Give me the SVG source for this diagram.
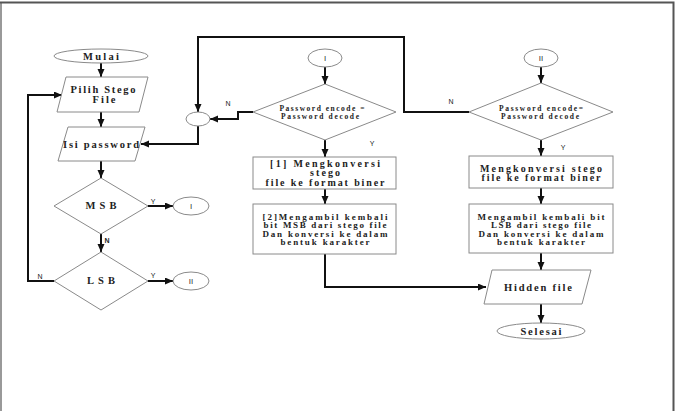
<svg xmlns="http://www.w3.org/2000/svg" width="678" height="411" viewBox="0 0 678 411">
<defs>
<marker id="ah" markerUnits="userSpaceOnUse" markerWidth="9" markerHeight="8" refX="8" refY="3.5" orient="auto">
<path d="M0,0 L8,3.5 L0,7 z" fill="#111"/>
</marker>
<style>
.sh{fill:#fff;stroke:#8a8a8a;stroke-width:1}
.cn{fill:none;stroke:#111;stroke-width:2}
.ar{marker-end:url(#ah)}
.t{font-family:"Liberation Serif","Times New Roman",serif;font-weight:bold;fill:#222;text-anchor:middle}
.l{font-family:"Liberation Sans",Arial,sans-serif;fill:#222;font-size:7px;text-anchor:middle}
.c{font-family:"Liberation Sans",Arial,sans-serif;fill:#333;font-size:8px;text-anchor:middle}
</style>
</defs>
<rect width="678" height="411" fill="#fff"/>
<path d="M1,411 V2" stroke="#999" stroke-width="2" fill="none"/>
<path d="M0,2.5 H673.5 V411" stroke="#555" stroke-width="2" fill="none"/>

<g id="connectors">
<path class="cn ar" d="M101,63 V77"/>
<path class="cn ar" d="M101,112 V127"/>
<path class="cn ar" d="M101,161 V178"/>
<path class="cn ar" d="M148,206 H173"/>
<path class="cn ar" d="M101,234 V252"/>
<path class="cn ar" d="M148,281 H173"/>
<path class="cn ar" d="M54,281 H28 V95 H62"/>
<path class="cn ar" d="M469,112 H404 V37 H198 V112"/>
<path class="cn ar" d="M253,112 H238 V119 H210"/>
<path class="cn ar" d="M198,126 V144 H141"/>
<path class="cn ar" d="M325,67 V84"/>
<path class="cn ar" d="M325,140 V157"/>
<path class="cn ar" d="M325,189 V204"/>
<path class="cn ar" d="M325,254 V287 H486"/>
<path class="cn ar" d="M541,67 V83"/>
<path class="cn ar" d="M541,140 V156"/>
<path class="cn ar" d="M541,188 V204"/>
<path class="cn ar" d="M541,253 V270"/>
<path class="cn ar" d="M541,304 V323"/>
</g>

<g id="labels">
<text class="l" x="228" y="106">N</text>
<text class="l" x="372" y="146">Y</text>
<text class="l" x="451" y="104">N</text>
<text class="l" x="563" y="150">Y</text>
<text class="l" x="153" y="204">Y</text>
<text class="l" x="107" y="243" font-weight="bold">N</text>
<text class="l" x="153" y="278">Y</text>
<text class="l" x="40" y="279">N</text>
</g>

<g id="mulai">
<ellipse class="sh" cx="101" cy="56" rx="47" ry="7"/>
<text class="t" x="101" y="60" font-size="10.5" textLength="36" lengthAdjust="spacing">Mulai</text>
</g>
<g id="pilih">
<polygon class="sh" points="66,77 148,77 139,112 57,112"/>
<text class="t" x="103" y="93" font-size="10.5" textLength="65" lengthAdjust="spacing">Pilih Stego</text>
<text class="t" x="104" y="103" font-size="10.5" textLength="23" lengthAdjust="spacing">File</text>
</g>
<g id="isi">
<polygon class="sh" points="68,127 145,127 135,161 58,161"/>
<text class="t" x="101" y="148" font-size="10.5" textLength="76" lengthAdjust="spacing">Isi password</text>
</g>
<g id="msb">
<polygon class="sh" points="101,178 148,206 101,234 54,206"/>
<text class="t" x="101" y="209" font-size="10.5" textLength="31" lengthAdjust="spacing">MSB</text>
</g>
<g id="lsb">
<polygon class="sh" points="101,252 148,281 101,310 54,281"/>
<text class="t" x="101" y="284" font-size="10.5" textLength="28" lengthAdjust="spacing">LSB</text>
</g>
<g id="conI1">
<ellipse class="sh" cx="191" cy="206" rx="18" ry="9"/>
<text class="c" x="191" y="209">I</text>
</g>
<g id="conII1">
<ellipse class="sh" cx="191" cy="281" rx="18" ry="9"/>
<text class="c" x="191" y="284">II</text>
</g>
<g id="merge">
<ellipse class="sh" cx="198" cy="119" rx="12" ry="7"/>
</g>

<g id="conI2">
<ellipse class="sh" cx="325" cy="58" rx="17" ry="9"/>
<text class="c" x="325" y="61">I</text>
</g>
<g id="decI">
<polygon class="sh" points="325,84 396,112 325,140 253,112"/>
<text class="t" x="322" y="111" font-size="7.5" textLength="85" lengthAdjust="spacing">Password encode =</text>
<text class="t" x="320" y="118.5" font-size="7.5" textLength="78" lengthAdjust="spacing">Password decode</text>
</g>
<g id="box1">
<rect class="sh" x="253" y="157" width="143" height="32"/>
<text class="t" x="325" y="166.5" font-size="10" textLength="110" lengthAdjust="spacing">[1] Mengkonversi</text>
<text class="t" x="325" y="176" font-size="10" textLength="30" lengthAdjust="spacing">stego</text>
<text class="t" x="325" y="185.5" font-size="10" textLength="119" lengthAdjust="spacing">file ke format biner</text>
</g>
<g id="box2">
<rect class="sh" x="253" y="204" width="143" height="50"/>
<text class="t" x="325" y="219.5" font-size="9" textLength="125" lengthAdjust="spacing">[2]Mengambil kembali</text>
<text class="t" x="325" y="228" font-size="9" textLength="123" lengthAdjust="spacing">bit MSB dari stego file</text>
<text class="t" x="325" y="236.5" font-size="9" textLength="125" lengthAdjust="spacing">Dan konversi ke dalam</text>
<text class="t" x="325" y="245" font-size="9" textLength="89" lengthAdjust="spacing">bentuk karakter</text>
</g>

<g id="conII2">
<ellipse class="sh" cx="541" cy="58" rx="17" ry="9"/>
<text class="c" x="541" y="61">II</text>
</g>
<g id="decII">
<polygon class="sh" points="541,83 613,112 541,140 469,112"/>
<text class="t" x="541" y="111" font-size="7.5" textLength="84" lengthAdjust="spacing">Password encode=</text>
<text class="t" x="540" y="118.5" font-size="7.5" textLength="78" lengthAdjust="spacing">Password decode</text>
</g>
<g id="box3">
<rect class="sh" x="469" y="156" width="144" height="32"/>
<text class="t" x="541" y="171.5" font-size="10" textLength="122" lengthAdjust="spacing">Mengkonversi stego</text>
<text class="t" x="541" y="181" font-size="10" textLength="119" lengthAdjust="spacing">file ke format biner</text>
</g>
<g id="box4">
<rect class="sh" x="469" y="204" width="144" height="49"/>
<text class="t" x="541" y="219.5" font-size="9" textLength="127" lengthAdjust="spacing">Mengambil kembali bit</text>
<text class="t" x="541" y="228" font-size="9" textLength="100" lengthAdjust="spacing">LSB dari stego file</text>
<text class="t" x="541" y="236.5" font-size="9" textLength="125" lengthAdjust="spacing">Dan konversi ke dalam</text>
<text class="t" x="541" y="245" font-size="9" textLength="88" lengthAdjust="spacing">bentuk karakter</text>
</g>
<g id="hidden">
<polygon class="sh" points="492,270 591,270 582,304 484,304"/>
<text class="t" x="538" y="291" font-size="10.5" textLength="68" lengthAdjust="spacing">Hidden file</text>
</g>
<g id="selesai">
<ellipse class="sh" cx="541" cy="331" rx="44" ry="8"/>
<text class="t" x="541" y="334.5" font-size="10.5" textLength="41" lengthAdjust="spacing">Selesai</text>
</g>
</svg>
